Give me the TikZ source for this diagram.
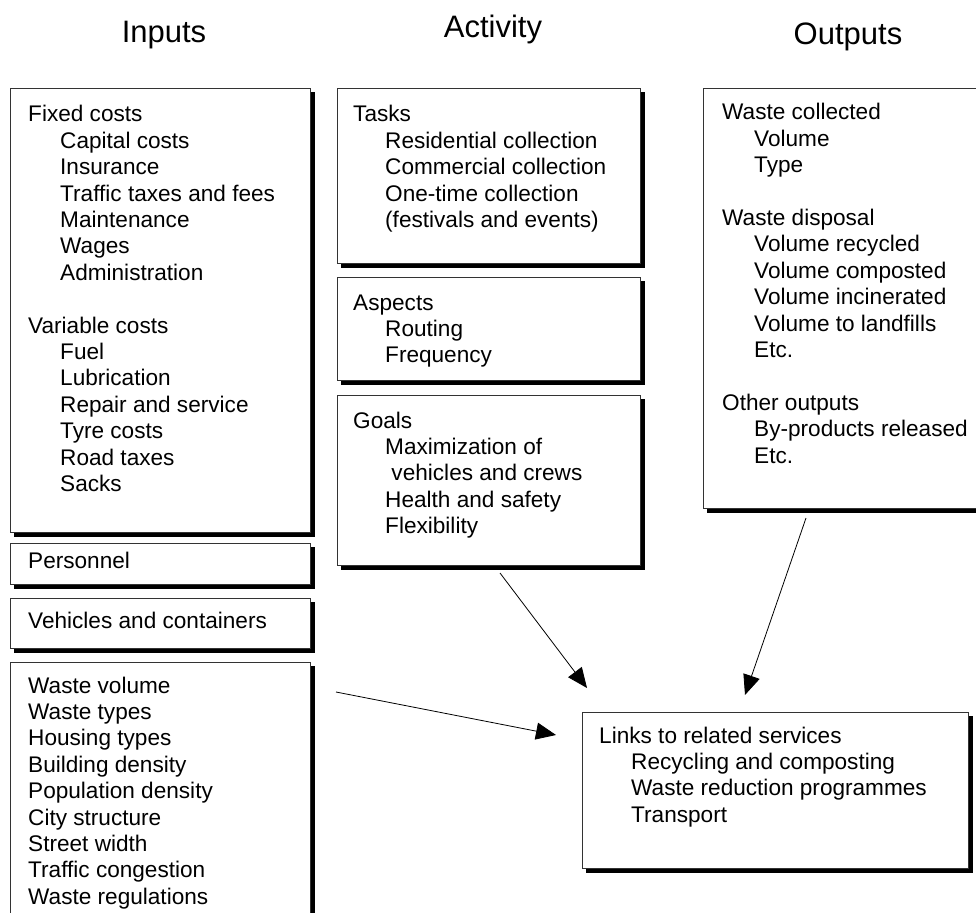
\documentclass[tikz,border=0pt]{standalone}
\usepackage{fontspec}
\setmainfont{Liberation Sans}
\usetikzlibrary{arrows.meta,shadows}
\newcommand\ind{\hspace*{32pt}}
\newcommand\lines[1]{\begin{tabular}[t]{@{}l@{}}#1\end{tabular}}
\tikzset{
  panel/.style={draw=black!80, line width=0.8pt, fill=white, anchor=north west,
    inner sep=0pt, outer sep=0pt,
    general shadow={shadow xshift=4.5pt, shadow yshift=-4.5pt, fill=black, draw=black, line width=0.8pt}},
  body/.style={anchor=base west, inner sep=0pt, font=\fontsize{22.6}{26.4}\selectfont},
  heading/.style={anchor=base, inner sep=0pt, font=\fontsize{31}{37}\selectfont},
  link/.style={line width=0.8pt, -{Triangle[length=20pt,width=17pt]}}
}
\begin{document}
\begin{tikzpicture}[x=1pt,y=-1pt]
\useasboundingbox[fill=white] (0,0) rectangle (976,912);

% column headings
\node[heading] (hin)  at (164,43) {Inputs};
\node[heading] (hact) at (493,38) {Activity};
\node[heading] (hout) at (848,45) {Outputs};

% inputs
\node[panel, minimum width=300pt, minimum height=444pt] (fixed) at (10,88) {};
\node[body] (fixedtxt) at (28,122) {\lines{Fixed costs\\
  \ind Capital costs\\ \ind Insurance\\ \ind Traffic taxes and fees\\
  \ind Maintenance\\ \ind Wages\\ \ind Administration\\ \\
  Variable costs\\ \ind Fuel\\ \ind Lubrication\\ \ind Repair and service\\
  \ind Tyre costs\\ \ind Road taxes\\ \ind Sacks}};

\node[panel, minimum width=300pt, minimum height=41pt] (pers) at (10,543) {};
\node[body] (perstxt) at (28,568) {Personnel};

\node[panel, minimum width=300pt, minimum height=50pt] (veh) at (10,598) {};
\node[body] (vehtxt) at (28,628) {Vehicles and containers};

\node[panel, minimum width=300pt, minimum height=270pt] (local) at (10,662) {};
\node[body] (localtxt) at (28,693) {\lines{Waste volume\\ Waste types\\
  Housing types\\ Building density\\ Population density\\ City structure\\
  Street width\\ Traffic congestion\\ Waste regulations}};

% activity
\node[panel, minimum width=303pt, minimum height=175pt] (tasks) at (337,88) {};
\node[body] (taskstxt) at (353,122) {\lines{Tasks\\
  \ind Residential collection\\ \ind Commercial collection\\
  \ind One-time collection\\ \ind (festivals and events)}};

\node[panel, minimum width=303pt, minimum height=103pt] (aspects) at (337,277) {};
\node[body] (aspectstxt) at (353,310) {\lines{Aspects\\
  \ind Routing\\ \ind Frequency}};

\node[panel, minimum width=303pt, minimum height=170pt] (goals) at (337,395) {};
\node[body] (goalstxt) at (353,428) {\lines{Goals\\
  \ind Maximization of\\ \ind\ vehicles and crews\\
  \ind Health and safety\\ \ind Flexibility}};

% outputs
\node[panel, minimum width=290pt, minimum height=420pt] (outs) at (703,88) {};
\node[body] (outstxt) at (722,120) {\lines{Waste collected\\
  \ind Volume\\ \ind Type\\ \\
  Waste disposal\\ \ind Volume recycled\\ \ind Volume composted\\
  \ind Volume incinerated\\ \ind Volume to landfills\\ \ind Etc.\\ \\
  Other outputs\\ \ind By-products released\\ \ind Etc.}};

% related services
\node[panel, minimum width=386pt, minimum height=156pt] (links) at (582,712) {};
\node[body] (linkstxt) at (599,743) {\lines{Links to related services\\
  \ind Recycling and composting\\ \ind Waste reduction programmes\\
  \ind Transport}};

% connectors
\coordinate (a1) at (336,692);
\coordinate (a1e) at (556,735);
\coordinate (a2) at (500,573);
\coordinate (a2e) at (587,688);
\coordinate (a3) at (806,518);
\coordinate (a3e) at (745,695);
\draw[link] (a1) -- (a1e);
\draw[link] (a2) -- (a2e);
\draw[link] (a3) -- (a3e);
\end{tikzpicture}
\end{document}
